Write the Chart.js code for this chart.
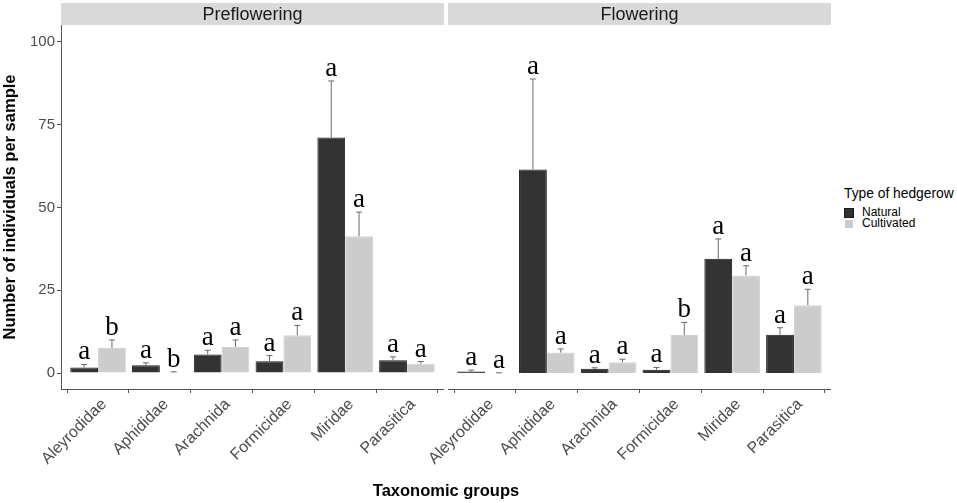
<!DOCTYPE html>
<html>
<head>
<meta charset="utf-8">
<title>Number of individuals per sample</title>
<script src="https://cdn.jsdelivr.net/npm/chart.js@4.4.1/dist/chart.umd.min.js"></script>
<style>
  body { margin: 0; background: #fff; font-family: "Liberation Sans", Arial, sans-serif; }
  .wrap { position: relative; width: 957px; height: 503px; overflow: hidden; }
  canvas { position: absolute; top: 0; }
  #leftChart { left: 0; }
  #rightChart { left: 368px; }
  .x-title { position: absolute; left: 0; width: 892px; top: 481px; text-align: center;
             font-weight: bold; font-size: 16.5px; color: #000; }
  .legend { position: absolute; left: 844px; top: 186px; color: #000; }
  .legend-title { font-size: 13.8px; line-height: 16px; margin-bottom: 5px; white-space: nowrap; }
  .legend-item { font-size: 12px; line-height: 11px; height: 11px; display: flex; align-items: center; }
  .legend-box { width: 8px; height: 8px; margin-right: 8px; border: 1px solid #fff; }
</style>
</head>
<body>
<div class="wrap">
  <canvas id="leftChart" width="444" height="503"></canvas>
  <canvas id="rightChart" width="463" height="503"></canvas>
  <div class="x-title">Taxonomic groups</div>
  <div class="legend" id="legend"></div>
</div>
<script>
// categories
const groups = ['Aleyrodidae', 'Aphididae', 'Arachnida', 'Formicidae', 'Miridae', 'Parasitica'];
const seriesNames = ['Natural', 'Cultivated'];
const seriesColors = ['#333333', '#cccccc'];
const yTicks = [0, 25, 50, 75, 100];

// preflowering: mean and upper end of error bar
const preNatural = [1.7, 2.4, 5.6, 3.6, 71.1, 3.9];
const preNaturalErr = [2.6, 3.1, 6.9, 5.3, 88.2, 4.9];
const preNaturalLetters = ['a', 'a', 'a', 'a', 'a', 'a'];
const preCultivated = [7.6, 0.2, 7.9, 11.4, 41.3, 2.8];
const preCultivatedErr = [10.0, 0.4, 10.0, 14.4, 48.6, 3.5];
const preCultivatedLetters = ['b', 'b', 'a', 'a', 'a', 'a'];

// flowering
const flNatural = [0.5, 61.5, 1.3, 1.0, 34.5, 11.6];
const flNaturalErr = [0.9, 88.8, 1.6, 1.7, 40.5, 13.7];
const flNaturalLetters = ['a', 'a', 'a', 'a', 'a', 'a'];
const flCultivated = [0.0, 6.2, 3.3, 11.5, 29.5, 20.5];
const flCultivatedErr = [0.1, 7.3, 4.2, 15.3, 32.4, 25.3];
const flCultivatedLetters = ['a', 'a', 'a', 'b', 'a', 'a'];

const sans = '"Liberation Sans", Arial, sans-serif';
const axisColor = '#555555';

// grey strip with the panel name on top of each panel
const stripPlugin = {
    id: 'strip',
    beforeDraw(chart, args, opts) {
        const ctx = chart.ctx;
        const a = chart.chartArea;
        ctx.save();
        ctx.fillStyle = '#d9d9d9';
        ctx.fillRect(a.left, 3, a.right - a.left, a.top - 3);
        ctx.fillStyle = '#1a1a1a';
        ctx.font = '18px ' + sans;
        ctx.textAlign = 'center';
        ctx.textBaseline = 'middle';
        ctx.fillText(opts.text, (a.left + a.right) / 2, (3 + a.top) / 2 + 1);
        ctx.restore();
    }
};

// upper error whiskers and significance letters
const errPlugin = {
    id: 'errbars',
    afterDatasetsDraw(chart) {
        const ctx = chart.ctx;
        const yScale = chart.scales.y;
        ctx.save();
        chart.data.datasets.forEach(function(ds, d) {
            const meta = chart.getDatasetMeta(d);
            meta.data.forEach(function(bar, i) {
                let top = yScale.getPixelForValue(ds.errUpper[i]);
                // whisker
                ctx.strokeStyle = '#6b6b6b';
                ctx.lineWidth = 1;
                ctx.beginPath();
                ctx.moveTo(bar.x, bar.y);
                ctx.lineTo(bar.x, top);
                ctx.moveTo(bar.x - 3, top);
                ctx.lineTo(bar.x + 3, top);
                ctx.stroke();
                // letter
                ctx.fillStyle = '#000';
                ctx.font = '27px "Liberation Serif", "DejaVu Serif", serif';
                ctx.textAlign = 'center';
                ctx.textBaseline = 'alphabetic';
                ctx.fillText(ds.letters[i], bar.x, top - 5);
            });
        });
        ctx.restore();
    }
};

function make_panel( canvasId, title, natural, naturalErr, naturalLetters, cultivated, cultivatedErr, cultivatedLetters, showY, padLeft ) {
    const data = {
        datasets: [{
            label: seriesNames[0],
            data: natural.map(function(v, i) { return {x: i, y: v}; }),
            errUpper: naturalErr,
            letters: naturalLetters,
            backgroundColor: seriesColors[0],
            borderColor: '#1a1a1a',
            borderWidth: 1
        }, {
            label: seriesNames[1],
            data: cultivated.map(function(v, i) { return {x: i, y: v}; }),
            errUpper: cultivatedErr,
            letters: cultivatedLetters,
            backgroundColor: seriesColors[1],
            borderColor: '#d2d2d2',
            borderWidth: 1
        }]
    };

    const config = {
        type: 'bar',
        data: data,
        plugins: [stripPlugin, errPlugin],
        options: {
            responsive: false,
            animation: false,
            layout: { padding: { top: 25, left: padLeft, right: 0, bottom: 0 } },
            datasets: { bar: { barPercentage: 1, categoryPercentage: 0.9 } },
            plugins: {
                legend: { display: false },
                tooltip: { enabled: false },
                strip: { text: title }
            },
            scales: {
                x: {
                    type: 'linear',
                    min: -0.6,
                    max: 5.6,
                    offset: false,
                    afterBuildTicks: function(s) { s.ticks = groups.map(function(g, i) { return {value: i}; }); },
                    afterFit: function(s) {
                        // fixed axis height, and let rotated labels spill over the left edge
                        s.height = 503 - 389;
                        s.paddingLeft = 0;
                        s.paddingRight = 0;
                    },
                    ticks: {
                        callback: function(v) { return groups[v]; },
                        autoSkip: false,
                        minRotation: 45,
                        maxRotation: 45,
                        padding: 2,
                        labelOffset: 6,
                        color: '#4d4d4d',
                        font: { size: 16, family: sans }
                    },
                    grid: { drawOnChartArea: false, tickLength: 4, color: axisColor },
                    border: { display: true, color: axisColor, width: 1 }
                },
                y: {
                    display: showY,
                    min: -4.8,
                    max: 105.1,
                    afterBuildTicks: function(s) { s.ticks = yTicks.map(function(v) { return {value: v}; }); },
                    afterFit: function(s) { s.width = showY ? 61 : 0; },
                    ticks: { padding: 2, color: '#4d4d4d', font: { size: 15, family: sans } },
                    grid: { drawOnChartArea: false, tickLength: 4, color: axisColor },
                    border: { display: true, color: axisColor, width: 1 },
                    title: {
                        display: true,
                        text: 'Number of individuals per sample',
                        color: '#000',
                        padding: { top: 1, bottom: 4 },
                        font: { size: 16.5, weight: 'bold', family: sans }
                    }
                }
            }
        }
    };

    return new Chart(document.getElementById(canvasId), config);
}

function make_legend() {
    let legend = document.getElementById('legend');
    let head = document.createElement('div');
    head.classList.add('legend-title');
    head.innerText = 'Type of hedgerow';
    legend.appendChild(head);
    for( let i = 0; i < seriesNames.length; ++i ) {
        let item = document.createElement('div');
        item.classList.add('legend-item');
        let box = document.createElement('span');
        box.classList.add('legend-box');
        box.style.backgroundColor = seriesColors[i];
        if( i == 0 ) {
            box.style.borderColor = '#1a1a1a';
        }
        item.appendChild(box);
        item.appendChild(document.createTextNode(seriesNames[i]));
        legend.appendChild(item);
    }
}

// the right panel canvas starts 80px early so its first rotated label has room
make_panel('leftChart', 'Preflowering', preNatural, preNaturalErr, preNaturalLetters,
           preCultivated, preCultivatedErr, preCultivatedLetters, true, 0);
make_panel('rightChart', 'Flowering', flNatural, flNaturalErr, flNaturalLetters,
           flCultivated, flCultivatedErr, flCultivatedLetters, false, 80);
make_legend();
</script>
</body>
</html>
